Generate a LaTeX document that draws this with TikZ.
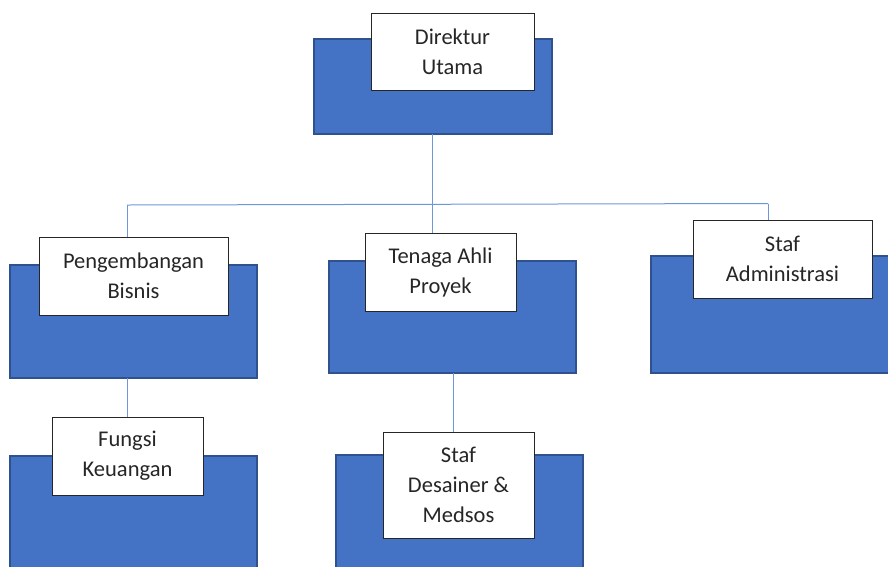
\documentclass[tikz,border=0pt]{standalone}
\usepackage{fontspec}
\setmainfont{Carlito}
\definecolor{boxblue}{HTML}{4472C4}
\definecolor{boxedge}{HTML}{2F528F}
\definecolor{linkblue}{HTML}{6F95DA}
\definecolor{txt}{HTML}{262626}
\begin{document}
\begin{tikzpicture}[x=1pt,y=-1pt,
  back/.style={fill=boxblue,draw=boxedge,line width=1.3pt},
  label/.style={fill=white,draw=black!85,line width=0.9pt,align=center,
    text=txt,font=\fontsize{22.5}{30}\selectfont,inner sep=0pt},
  link/.style={draw=linkblue,line width=1pt}]
\useasboundingbox (0,0) rectangle (888,566);
% blue back rectangles
\path[back] (314,39) rectangle (552,134);
\path[back] (10,265) rectangle (257,378);
\path[back] (329,261) rectangle (576,373);
\path[back] (651,256) rectangle (900,373);
\path[back] (10,456) rectangle (257,600);
\path[back] (336,455) rectangle (583,600);
% named anchors of the back rectangles
\coordinate (duB) at (432,134);
\coordinate (pbB) at (127,378);
\coordinate (taB) at (453,373);
% white label boxes
\node[label,minimum width=163pt,minimum height=77pt] (du) at (452.5,51.5) {Direktur\\Utama};
\node[label,minimum width=189pt,minimum height=78pt] (pb) at (133.5,276) {Pengembangan\\Bisnis};
\node[label,minimum width=151pt,minimum height=78pt] (ta) at (440.5,272) {Tenaga Ahli\\Proyek};
\node[label,minimum width=179pt,minimum height=78pt] (sa) at (782.5,259) {Staf\\Administrasi};
\node[label,minimum width=151pt,minimum height=78pt] (fk) at (127.5,456) {Fungsi\\Keuangan};
\node[label,minimum width=151pt,minimum height=106pt] (sd) at (458.5,485) {Staf\\Desainer \&\\Medsos};
% connectors
\coordinate (busL) at (127,205);
\coordinate (busR) at (768,203.5);
\draw[link] (duB) -- (duB |- ta.north);
\draw[link] (busL) -- (busR);
\draw[link] (busL) -- (busL |- pb.north);
\draw[link] (busR) -- (busR |- sa.north);
\draw[link] (pbB) -- (pbB |- fk.north);
\draw[link] (taB) -- (taB |- sd.north);
\end{tikzpicture}
\end{document}
